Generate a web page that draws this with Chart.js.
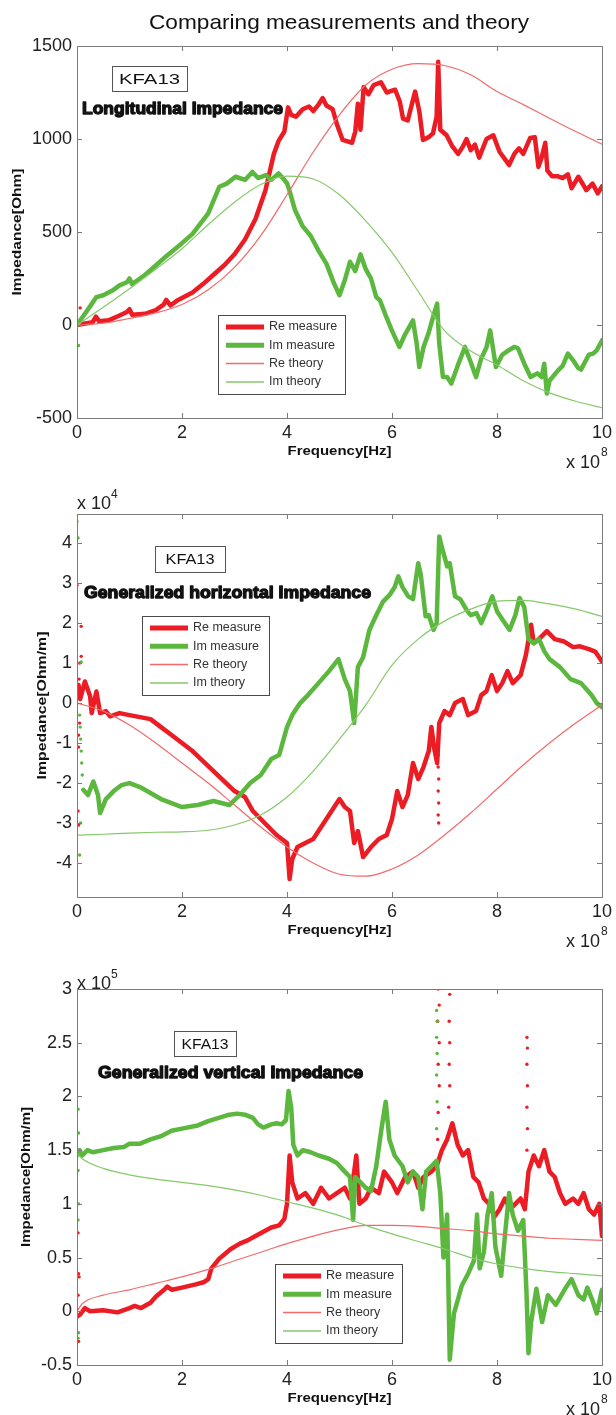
<!DOCTYPE html>
<html>
<head>
<meta charset="utf-8">
<title>Comparing measurements and theory</title>
<script src="https://cdn.jsdelivr.net/npm/chart.js@4.4.1/dist/chart.umd.min.js"></script>
<style>
  html, body { margin: 0; padding: 0; background: #fff; }
  #page { position: relative; width: 616px; height: 1415px; overflow: hidden; }
  .panel { position: absolute; left: 0; width: 616px; }
  .panel canvas { display: block; }
</style>
</head>
<body>
<div id="page">
  <div class="panel" style="top:0;height:476px"><canvas id="c1" width="616" height="476"></canvas></div>
  <div class="panel" style="top:476px;height:479px"><canvas id="c2" width="616" height="479"></canvas></div>
  <div class="panel" style="top:955px;height:460px"><canvas id="c3" width="616" height="460"></canvas></div>
</div>
<script>
// frequency is in units of 1e8 Hz everywhere (the "x 10^8" under each axis)

const xTicks = [0, 2, 4, 6, 8, 10];
const yTicks1 = [-500, 0, 500, 1000, 1500];          // Ohm
const yTicks2 = [-4, -3, -2, -1, 0, 1, 2, 3, 4];     // x 1e4 Ohm/m
const yTicks3 = [-0.5, 0, 0.5, 1, 1.5, 2, 2.5, 3];   // x 1e5 Ohm/m

// theory curves, sampled on a regular grid
const theoryF = [0, 0.5, 1, 1.5, 2, 2.5, 3, 3.5, 4, 4.5, 5, 5.5, 6, 6.5, 7, 7.5, 8, 8.5, 9, 9.5, 10];
const theoryF3 = [0, 0.1, 0.5, 1, 1.5, 2, 2.5, 3, 3.5, 4, 4.5, 5, 5.5, 6, 6.5, 7, 7.5, 8, 8.5, 9, 9.5, 10];

const reTheory1 = [0, 10, 35, 65, 110, 190, 310, 480, 700, 930, 1130, 1290, 1375, 1405, 1395, 1345, 1255, 1185, 1112, 1040, 972];
const imTheory1 = [0, 95, 195, 300, 410, 540, 660, 755, 800, 785, 700, 560, 390, 180, -30, -140, -215, -300, -365, -410, -445];

const reTheory2 = [0, -0.2, -0.55, -1.0, -1.5, -2.0, -2.55, -3.1, -3.6, -4.0, -4.28, -4.33, -4.15, -3.8, -3.3, -2.75, -2.15, -1.55, -1.0, -0.5, -0.05];
const imTheory2 = [-3.3, -3.28, -3.25, -3.23, -3.22, -3.18, -3.05, -2.8, -2.35, -1.7, -0.9, -0.05, 0.95, 1.6, 2.05, 2.35, 2.55, 2.57, 2.48, 2.35, 2.17];

const reTheory3 = [0, 0.07, 0.15, 0.2, 0.26, 0.32, 0.39, 0.47, 0.55, 0.63, 0.7, 0.76, 0.8, 0.8, 0.79, 0.77, 0.75, 0.72, 0.7, 0.68, 0.67, 0.66];
const imTheory3 = [1.47, 1.42, 1.33, 1.27, 1.23, 1.2, 1.17, 1.13, 1.08, 1.02, 0.96, 0.89, 0.8, 0.72, 0.65, 0.58, 0.5, 0.44, 0.4, 0.37, 0.35, 0.33];

const reMeas1 = [[0,0],[0.1,5],[0.3,15],[0.36,45],[0.42,20],[0.6,25],[0.8,50],[0.95,70],[1.0,85],[1.05,55],[1.3,60],[1.5,80],[1.65,110],[1.7,135],[1.78,105],[1.9,130],[2.0,145],[2.2,175],[2.4,220],[2.6,270],[2.8,320],[3.0,380],[3.2,460],[3.4,570],[3.59,725],[3.75,920],[3.84,990],[3.95,1040],[4.02,1170],[4.08,1130],[4.17,1120],[4.3,1160],[4.42,1175],[4.5,1150],[4.6,1185],[4.68,1220],[4.75,1180],[4.87,1160],[4.95,1080],[5.06,995],[5.24,980],[5.3,1040],[5.35,1190],[5.4,1050],[5.46,1280],[5.55,1240],[5.65,1290],[5.79,1305],[5.9,1250],[6.06,1265],[6.15,1200],[6.21,1110],[6.3,1100],[6.44,1255],[6.52,1150],[6.59,995],[6.7,1010],[6.78,1030],[6.85,1120],[6.88,1415],[6.92,1050],[7.04,1020],[7.15,960],[7.26,920],[7.35,960],[7.42,1000],[7.5,940],[7.58,970],[7.66,900],[7.8,1000],[7.93,1020],[8.05,930],[8.13,900],[8.23,860],[8.33,920],[8.42,950],[8.5,920],[8.63,1005],[8.72,1010],[8.79,850],[8.85,900],[8.92,980],[8.96,830],[9.05,800],[9.15,800],[9.25,790],[9.35,810],[9.42,735],[9.55,797],[9.65,750],[9.7,725],[9.82,760],[9.92,708],[10,745]];
const imMeas1 = [[0,0],[0.1,40],[0.2,80],[0.37,150],[0.5,160],[0.7,190],[0.81,213],[0.95,230],[1.0,250],[1.05,220],[1.3,270],[1.5,320],[1.7,370],[2.0,440],[2.2,490],[2.5,600],[2.71,743],[2.85,760],[3.02,797],[3.2,780],[3.34,823],[3.45,790],[3.6,806],[3.7,780],[3.84,815],[3.92,790],[4.0,762],[4.05,720],[4.15,620],[4.3,530],[4.45,480],[4.6,400],[4.75,330],[4.9,220],[5.0,160],[5.1,240],[5.2,340],[5.3,290],[5.4,380],[5.5,300],[5.6,250],[5.7,150],[5.77,133],[5.88,52],[6.0,-30],[6.14,-118],[6.25,-50],[6.4,25],[6.47,-100],[6.52,-226],[6.6,-120],[6.7,-40],[6.8,60],[6.86,115],[6.9,-100],[6.97,-280],[7.05,-280],[7.13,-315],[7.25,-220],[7.39,-118],[7.5,-200],[7.6,-280],[7.7,-180],[7.8,-120],[7.87,-29],[7.98,-226],[8.1,-160],[8.2,-140],[8.33,-118],[8.4,-125],[8.52,-208],[8.64,-280],[8.77,-260],[8.85,-280],[8.9,-208],[8.95,-368],[9.0,-300],[9.16,-245],[9.25,-220],[9.35,-154],[9.45,-190],[9.55,-232],[9.6,-240],[9.75,-160],[9.83,-154],[9.9,-136],[10,-83]];
const reDots1 = [[0.06,92]];
const imDots1 = [[0.03,-110]];

const reMeas2 = [[0.03,0.45],[0.06,0.1],[0.15,0.54],[0.25,0.17],[0.28,-0.25],[0.37,0.29],[0.44,-0.25],[0.55,-0.2],[0.63,-0.33],[0.81,-0.25],[1.0,-0.3],[1.2,-0.35],[1.4,-0.4],[1.6,-0.6],[1.8,-0.8],[2.0,-1.0],[2.2,-1.2],[2.4,-1.45],[2.6,-1.7],[2.8,-1.95],[3.0,-2.2],[3.2,-2.35],[3.35,-2.7],[3.5,-2.9],[3.65,-3.1],[3.8,-3.3],[4.0,-3.5],[4.05,-4.4],[4.1,-3.9],[4.2,-3.6],[4.35,-3.5],[4.5,-3.4],[4.7,-3.0],[4.85,-2.7],[5.0,-2.4],[5.1,-2.6],[5.2,-2.7],[5.28,-3.5],[5.35,-3.2],[5.45,-3.85],[5.6,-3.6],[5.75,-3.4],[5.9,-3.3],[6.0,-2.9],[6.1,-2.2],[6.2,-2.6],[6.3,-2.3],[6.4,-1.5],[6.5,-1.9],[6.6,-1.6],[6.7,-1.2],[6.75,-0.6],[6.8,-1.1],[6.86,-1.5],[6.9,-0.5],[7.0,-0.2],[7.1,-0.3],[7.2,0.0],[7.35,0.1],[7.45,-0.3],[7.6,-0.2],[7.7,0.2],[7.8,0.3],[7.9,0.7],[8.0,0.3],[8.1,0.5],[8.2,0.8],[8.3,0.5],[8.45,0.7],[8.55,1.2],[8.65,1.96],[8.7,1.5],[8.8,1.6],[8.95,1.8],[9.1,1.6],[9.28,1.54],[9.45,1.4],[9.58,1.42],[9.75,1.35],[9.87,1.29],[10,1.04]];
const imMeas2 = [[0.12,-2.17],[0.21,-2.3],[0.31,-1.96],[0.4,-2.3],[0.44,-2.75],[0.55,-2.4],[0.7,-2.2],[0.85,-2.05],[1.0,-2.0],[1.2,-2.1],[1.4,-2.25],[1.6,-2.4],[1.8,-2.5],[2.0,-2.6],[2.3,-2.55],[2.6,-2.45],[2.9,-2.55],[3.1,-2.3],[3.3,-2.0],[3.5,-1.8],[3.7,-1.4],[3.85,-1.3],[4.0,-0.6],[4.1,-0.3],[4.25,0.0],[4.4,0.2],[4.6,0.5],[4.8,0.8],[4.98,1.1],[5.1,0.6],[5.2,0.3],[5.28,-0.5],[5.35,0.9],[5.45,1.15],[5.57,1.83],[5.7,2.2],[5.83,2.54],[5.95,2.7],[6.05,2.9],[6.12,3.17],[6.2,2.9],[6.31,2.67],[6.4,2.6],[6.5,3.5],[6.55,3.2],[6.64,2.17],[6.7,2.2],[6.79,1.83],[6.85,2.0],[6.9,4.17],[6.95,3.9],[7.05,3.42],[7.1,3.5],[7.2,2.67],[7.3,2.6],[7.42,2.33],[7.5,2.2],[7.61,2.25],[7.7,2.0],[7.8,2.3],[7.91,2.67],[8.0,2.3],[8.1,2.1],[8.24,1.83],[8.35,2.2],[8.43,2.63],[8.52,2.4],[8.6,1.6],[8.7,1.5],[8.8,1.6],[8.9,1.3],[9.0,1.1],[9.2,0.9],[9.4,0.6],[9.6,0.5],[9.8,0.2],[9.9,0.0],[10,-0.1]];
const reDots2 = [[0.0,2.95],[0.08,1.92],[0.08,1.17],[0.05,1.0],[0.04,0.6],[0.05,-0.5],[0.03,-0.8],[0.03,-1.1],[0.02,-2.7],[0.03,-3.05],[6.88,-1.3],[6.88,-1.6],[6.89,-1.9],[6.88,-2.2],[6.89,-2.5],[6.88,-2.8],[6.89,-3.0]];
const imDots2 = [[0.0,4.54],[0.02,4.13],[0.08,1.03],[0.05,-0.3],[0.06,-0.6],[0.07,-0.9],[0.08,-1.2],[0.09,-1.5],[0.1,-1.8],[0.07,-3.0],[0.05,-3.8]];

const reMeas3 = [[0,-0.05],[0.06,-0.03],[0.15,0.03],[0.25,0.0],[0.5,0.01],[0.77,-0.01],[1.0,0.03],[1.1,0.05],[1.22,0.03],[1.4,0.08],[1.51,0.14],[1.66,0.2],[1.72,0.23],[1.81,0.2],[2.0,0.22],[2.26,0.25],[2.41,0.27],[2.5,0.3],[2.56,0.4],[2.71,0.49],[2.93,0.58],[3.1,0.63],[3.25,0.66],[3.4,0.7],[3.55,0.74],[3.7,0.78],[3.85,0.8],[3.95,0.86],[4.0,1.0],[4.05,1.45],[4.1,1.2],[4.2,1.05],[4.35,1.1],[4.5,1.0],[4.65,1.15],[4.8,1.05],[4.95,1.1],[5.1,1.15],[5.2,1.05],[5.28,1.3],[5.32,1.45],[5.38,1.0],[5.5,1.05],[5.6,1.15],[5.75,1.1],[5.85,1.3],[6.0,1.2],[6.1,1.1],[6.25,1.25],[6.4,1.3],[6.5,1.15],[6.6,1.25],[6.75,1.3],[6.85,1.35],[6.95,1.5],[7.05,1.6],[7.15,1.75],[7.25,1.55],[7.35,1.45],[7.45,1.5],[7.55,1.25],[7.65,1.2],[7.75,1.05],[7.85,1.0],[7.95,0.88],[8.05,0.95],[8.15,1.05],[8.25,0.95],[8.35,1.0],[8.45,1.05],[8.53,0.95],[8.6,1.3],[8.7,1.45],[8.8,1.35],[8.9,1.5],[9.0,1.3],[9.1,1.25],[9.2,1.1],[9.3,1.0],[9.45,1.05],[9.55,1.0],[9.65,1.1],[9.75,0.95],[9.85,0.9],[9.95,1.0],[10,0.7]];
const imMeas3 = [[0,1.45],[0.05,1.5],[0.1,1.45],[0.2,1.5],[0.3,1.48],[0.5,1.5],[0.7,1.52],[0.9,1.53],[1.0,1.56],[1.2,1.56],[1.4,1.6],[1.6,1.63],[1.8,1.68],[2.0,1.7],[2.3,1.73],[2.5,1.77],[2.7,1.8],[2.9,1.83],[3.05,1.84],[3.2,1.83],[3.35,1.8],[3.45,1.74],[3.55,1.71],[3.7,1.74],[3.8,1.75],[3.9,1.74],[3.98,1.78],[4.03,2.05],[4.08,1.9],[4.12,1.55],[4.2,1.45],[4.3,1.5],[4.45,1.48],[4.6,1.45],[4.8,1.42],[4.95,1.38],[5.1,1.3],[5.2,1.25],[5.26,0.85],[5.3,1.25],[5.4,1.2],[5.5,1.15],[5.6,1.12],[5.7,1.35],[5.8,1.7],[5.88,1.95],[5.95,1.6],[6.05,1.45],[6.2,1.35],[6.3,1.2],[6.4,1.3],[6.5,1.25],[6.58,0.95],[6.65,1.3],[6.75,1.35],[6.85,1.4],[6.92,1.1],[6.98,0.5],[7.05,0.9],[7.1,-0.45],[7.18,-0.02],[7.25,0.1],[7.33,0.24],[7.45,0.35],[7.56,0.47],[7.62,0.9],[7.67,0.4],[7.75,0.55],[7.82,0.9],[7.9,1.1],[7.97,0.6],[8.08,0.33],[8.15,0.7],[8.23,1.1],[8.3,0.9],[8.4,0.75],[8.5,0.85],[8.56,0.2],[8.6,-0.39],[8.65,-0.1],[8.75,0.21],[8.86,-0.1],[8.97,0.15],[9.12,0.06],[9.31,0.22],[9.42,0.3],[9.55,0.15],[9.65,0.11],[9.72,0.22],[9.82,0.1],[9.9,-0.02],[10,0.2]];
const reDots3 = [[0.02,0.73],[0.03,0.35],[0.04,0.32],[0.02,0.15],[0.03,-0.28],[6.87,1.6],[6.88,1.85],[6.9,2.1],[6.88,2.3],[6.9,2.5],[6.87,2.7],[6.9,2.85],[6.88,3.0],[7.08,1.9],[7.1,2.1],[7.09,2.3],[7.1,2.5],[7.09,2.7],[7.1,2.95],[8.57,1.5],[8.58,1.7],[8.57,1.9],[8.58,2.1],[8.57,2.3],[8.58,2.45],[8.57,2.55]];
const imDots3 = [[0.02,1.88],[0.03,1.66],[0.02,1.31],[0.03,1.0],[0.02,0.85],[0.03,-0.2],[0.02,-0.25],[6.85,1.7],[6.86,1.95],[6.85,2.2],[6.86,2.4],[6.85,2.55],[6.86,2.7],[6.85,2.8]];

const RED = '#ec1c24', GREEN = '#5cb73e';
const RED_T = '#f26a6a', GREEN_T = '#86c96a';
const TXT = '#222';
const FONT = "'Liberation Sans', Arial, sans-serif";

Chart.defaults.font.family = FONT;

function xy(pairs) { return pairs.map(p => ({x: p[0], y: p[1]})); }
function onGrid(f, z) { return f.map((v, i) => ({x: v, y: z[i]})); }

/* draw text squeezed/stretched to a given width
 * (the matlab export has odd font widths, so fit them) */
function fitText(ctx, txt, cx, cy, w, font, rot, heavy) {
  ctx.save();
  ctx.font = font;
  ctx.translate(cx, cy);
  if (rot) ctx.rotate(rot);
  ctx.scale(w / ctx.measureText(txt).width, 1);
  ctx.textAlign = 'center';
  ctx.textBaseline = 'middle';
  ctx.fillStyle = '#111';
  if (heavy) { ctx.strokeStyle = '#111'; ctx.lineWidth = heavy; ctx.lineJoin = 'round'; ctx.strokeText(txt, 0, 0); }
  ctx.fillText(txt, 0, 0);
  ctx.restore();
}

function seriesSets(s) {
  const line = (label, data, color, w, order) => ({
    label, data, borderColor: color, backgroundColor: color, borderWidth: w,
    showLine: true, pointRadius: 0, borderJoinStyle: 'round', borderCapStyle: 'round', order
  });
  const dots = (data, color, order) => ({
    data, pointBackgroundColor: color, pointBorderWidth: 0, pointRadius: 1.7, showLine: false, order
  });
  const reT = line('Re theory', onGrid(s.thF, s.reTh), RED_T, 1.2, 2);
  const imT = line('Im theory', onGrid(s.thF, s.imTh), GREEN_T, 1.2, 1);
  reT.cubicInterpolationMode = imT.cubicInterpolationMode = 'monotone';
  return [
    line('Re measure', xy(s.reMeas), RED, 4.5, 6),
    dots(xy(s.reDots), RED, 5),
    line('Im measure', xy(s.imMeas), GREEN, 4.5, 4),
    dots(xy(s.imDots), GREEN, 3),
    reT, imT
  ];
}

// legend box like the matlab one
function drawLegend(ctx, x0, y0) {
  const items = [['Re measure', RED, 5], ['Im measure', GREEN, 5], ['Re theory', RED_T, 1.5], ['Im theory', GREEN_T, 1.5]];
  ctx.fillStyle = '#fff';
  ctx.fillRect(x0, y0, 127, 79);
  ctx.strokeStyle = '#4a4a4a'; ctx.lineWidth = 1;
  ctx.strokeRect(x0 + 0.5, y0 + 0.5, 127, 79);
  items.forEach((it, i) => {
    const y = y0 + 12 + i * 18.3;
    ctx.strokeStyle = it[1]; ctx.lineWidth = it[2];
    ctx.beginPath(); ctx.moveTo(x0 + 8, y); ctx.lineTo(x0 + 46, y); ctx.stroke();
    ctx.fillStyle = '#333'; ctx.font = '12.5px ' + FONT;
    ctx.textAlign = 'left'; ctx.textBaseline = 'middle';
    ctx.fillText(it[0], x0 + 51, y);
  });
}

function framePlugin(p) {
  return {
    id: 'matlabFrame',
    afterDatasetsDraw(chart) {
      const {ctx, chartArea: a, scales: {x, y}} = chart;
      ctx.save();
      ctx.strokeStyle = '#7c7c7c'; ctx.lineWidth = 1;
      ctx.strokeRect(a.left + 0.5, a.top + 0.5, a.width, a.height);
      ctx.beginPath();
      x.ticks.forEach(t => {
        const px = Math.round(x.getPixelForValue(t.value)) + 0.5;
        ctx.moveTo(px, a.bottom); ctx.lineTo(px, a.bottom - 5);
        ctx.moveTo(px, a.top); ctx.lineTo(px, a.top + 5);
      });
      y.ticks.forEach(t => {
        const py = Math.round(y.getPixelForValue(t.value)) + 0.5;
        ctx.moveTo(a.left, py); ctx.lineTo(a.left + 5, py);
        ctx.moveTo(a.right, py); ctx.lineTo(a.right - 5, py);
      });
      ctx.stroke();
      ctx.restore();
    },
    afterDraw(chart) {
      const {ctx, chartArea: a} = chart;
      ctx.save();
      ctx.translate(0, -p.top); // page coordinates from here on
      const top = a.top + p.top, bottom = a.bottom + p.top, mid = (a.left + a.right) / 2;

      if (p.title) fitText(ctx, p.title, 339, 23, 380, '21px ' + FONT);

      fitText(ctx, p.yTitle, p.yTitleX, (top + bottom) / 2, p.yTitleLen, 'bold 12px ' + FONT, -Math.PI / 2);
      fitText(ctx, 'Frequency[Hz]', mid, bottom + 33, 104, 'bold 13px ' + FONT);

      // exponent labels
      ctx.fillStyle = TXT; ctx.textBaseline = 'middle';
      ctx.font = '18px ' + FONT; ctx.textAlign = 'right';
      ctx.fillText('x 10', 600, bottom + 45);
      ctx.font = '12px ' + FONT; ctx.textAlign = 'left';
      ctx.fillText('8', 601, bottom + 35);
      if (p.expo) {
        ctx.font = '18px ' + FONT;
        ctx.fillText('x 10', 77, p.expo[1]);
        ctx.font = '12px ' + FONT;
        ctx.fillText(p.expo[0], 111, p.expo[1] - 9);
      }

      // KFA13 box and the bold heading
      const b = p.kfa;
      ctx.fillStyle = '#fff'; ctx.fillRect(b[0], b[1], b[2], b[3]);
      ctx.strokeStyle = '#555'; ctx.lineWidth = 1;
      ctx.strokeRect(b[0] + 0.5, b[1] + 0.5, b[2], b[3]);
      fitText(ctx, 'KFA13', b[0] + b[2] / 2, b[1] + b[3] / 2 + 1, b[4], '15px ' + FONT);
      fitText(ctx, p.name[0], p.name[1] + p.name[3] / 2, p.name[2], p.name[3], 'bold 17px ' + FONT, 0, 1.3);

      drawLegend(ctx, p.legend[0], p.legend[1]);
      ctx.restore();
    }
  };
}

function makePanel(p) {
  const tickFont = {size: 18, family: FONT};
  return new Chart(document.getElementById(p.id), {
    type: 'scatter',
    data: {datasets: seriesSets(p.series)},
    options: {
      responsive: false,
      animation: false,
      devicePixelRatio: 1,
      layout: {padding: {top: p.areaTop - p.top, right: 11, left: 0, bottom: 0}},
      plugins: {legend: {display: false}, tooltip: {enabled: false}},
      scales: {
        x: {
          type: 'linear', min: 0, max: 10,
          grid: {display: false, drawTicks: false}, border: {display: false},
          ticks: {padding: 4, font: tickFont, color: TXT, autoSkip: false, maxRotation: 0, callback: v => String(v)},
          afterBuildTicks: s => { s.ticks = xTicks.map(v => ({value: v})); },
          afterFit: s => { s.height = p.top + p.height - p.areaBottom; }
        },
        y: {
          type: 'linear', min: p.yMin, max: p.yMax,
          grid: {display: false, drawTicks: false}, border: {display: false},
          ticks: {padding: 5, font: tickFont, color: TXT, autoSkip: false, callback: v => String(v)},
          afterBuildTicks: s => { s.ticks = p.yTicks.map(v => ({value: v})); },
          afterFit: s => { s.width = 77; }
        }
      }
    },
    plugins: [framePlugin(p)]
  });
}

makePanel({
  id: 'c1', top: 0, height: 476, areaTop: 46, areaBottom: 418,
  yMin: -500, yMax: 1500, yTicks: yTicks1,
  title: 'Comparing measurements and theory',
  yTitle: 'Impedance[Ohm]', yTitleX: 18, yTitleLen: 127,
  kfa: [112, 66, 75, 25, 61],
  name: ['Longitudinal Impedance', 82, 109, 201],
  legend: [218, 315],
  series: {thF: theoryF, reTh: reTheory1, imTh: imTheory1, reMeas: reMeas1, imMeas: imMeas1, reDots: reDots1, imDots: imDots1}
});

makePanel({
  id: 'c2', top: 476, height: 479, areaTop: 514, areaBottom: 897,
  yMin: -4.85, yMax: 4.73, yTicks: yTicks2,
  yTitle: 'Impedance[Ohm/m]', yTitleX: 43, yTitleLen: 148,
  expo: ['4', 504],
  kfa: [155, 546, 70, 26, 49],
  name: ['Generalized horizontal Impedance', 84, 593, 287],
  legend: [142, 616],
  series: {thF: theoryF, reTh: reTheory2, imTh: imTheory2, reMeas: reMeas2, imMeas: imMeas2, reDots: reDots2, imDots: imDots2}
});

makePanel({
  id: 'c3', top: 955, height: 460, areaTop: 989, areaBottom: 1365,
  yMin: -0.5, yMax: 3, yTicks: yTicks3,
  yTitle: 'Impedance[Ohm/m]', yTitleX: 27, yTitleLen: 140,
  expo: ['5', 984],
  kfa: [174, 1031, 62, 25, 47],
  name: ['Generalized vertical Impedance', 98, 1073, 265],
  legend: [275, 1264],
  series: {thF: theoryF3, reTh: reTheory3, imTh: imTheory3, reMeas: reMeas3, imMeas: imMeas3, reDots: reDots3, imDots: imDots3}
});
</script>
</body>
</html>
